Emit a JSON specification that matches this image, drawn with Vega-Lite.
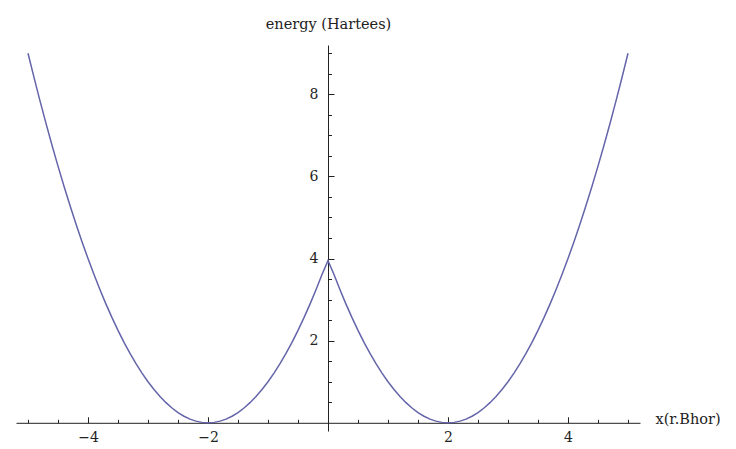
{
  "$schema": "https://vega.github.io/schema/vega-lite/v6.json",
  "autosize": "none",
  "width": 624,
  "height": 386,
  "padding": {"left": 16, "top": 45, "right": 96, "bottom": 18},
  "background": "white",
  "config": {
    "view": {"stroke": null},
    "font": "DejaVu Serif",
    "axis": {
      "domainColor": "#222222",
      "domainWidth": 1,
      "tickColor": "#222222",
      "tickWidth": 1,
      "grid": false,
      "labelFont": "DejaVu Serif",
      "labelFontSize": 14,
      "labelColor": "#222222",
      "titleFont": "DejaVu Serif",
      "titleFontSize": 14.5,
      "titleFontWeight": "normal",
      "titleColor": "#222222"
    }
  },
  "data": {
    "values": [
      {"x": -5.0, "y": 9.0}, {"x": -4.9, "y": 8.41}, {"x": -4.8, "y": 7.84}, {"x": -4.7, "y": 7.29},
      {"x": -4.6, "y": 6.76}, {"x": -4.5, "y": 6.25}, {"x": -4.4, "y": 5.76}, {"x": -4.3, "y": 5.29},
      {"x": -4.2, "y": 4.84}, {"x": -4.1, "y": 4.41}, {"x": -4.0, "y": 4.0}, {"x": -3.9, "y": 3.61},
      {"x": -3.8, "y": 3.24}, {"x": -3.7, "y": 2.89}, {"x": -3.6, "y": 2.56}, {"x": -3.5, "y": 2.25},
      {"x": -3.4, "y": 1.96}, {"x": -3.3, "y": 1.69}, {"x": -3.2, "y": 1.44}, {"x": -3.1, "y": 1.21},
      {"x": -3.0, "y": 1.0}, {"x": -2.9, "y": 0.81}, {"x": -2.8, "y": 0.64}, {"x": -2.7, "y": 0.49},
      {"x": -2.6, "y": 0.36}, {"x": -2.5, "y": 0.25}, {"x": -2.4, "y": 0.16}, {"x": -2.3, "y": 0.09},
      {"x": -2.2, "y": 0.04}, {"x": -2.1, "y": 0.01}, {"x": -2.0, "y": 0.0}, {"x": -1.9, "y": 0.01},
      {"x": -1.8, "y": 0.04}, {"x": -1.7, "y": 0.09}, {"x": -1.6, "y": 0.16}, {"x": -1.5, "y": 0.25},
      {"x": -1.4, "y": 0.36}, {"x": -1.3, "y": 0.49}, {"x": -1.2, "y": 0.64}, {"x": -1.1, "y": 0.81},
      {"x": -1.0, "y": 1.0}, {"x": -0.9, "y": 1.21}, {"x": -0.8, "y": 1.44}, {"x": -0.7, "y": 1.69},
      {"x": -0.6, "y": 1.96}, {"x": -0.5, "y": 2.25}, {"x": -0.4, "y": 2.56}, {"x": -0.3, "y": 2.89},
      {"x": -0.2, "y": 3.24}, {"x": -0.1, "y": 3.61}, {"x": 0.0, "y": 3.95},
      {"x": 0.1, "y": 3.61}, {"x": 0.2, "y": 3.24}, {"x": 0.3, "y": 2.89}, {"x": 0.4, "y": 2.56},
      {"x": 0.5, "y": 2.25}, {"x": 0.6, "y": 1.96}, {"x": 0.7, "y": 1.69}, {"x": 0.8, "y": 1.44},
      {"x": 0.9, "y": 1.21}, {"x": 1.0, "y": 1.0}, {"x": 1.1, "y": 0.81}, {"x": 1.2, "y": 0.64},
      {"x": 1.3, "y": 0.49}, {"x": 1.4, "y": 0.36}, {"x": 1.5, "y": 0.25}, {"x": 1.6, "y": 0.16},
      {"x": 1.7, "y": 0.09}, {"x": 1.8, "y": 0.04}, {"x": 1.9, "y": 0.01}, {"x": 2.0, "y": 0.0},
      {"x": 2.1, "y": 0.01}, {"x": 2.2, "y": 0.04}, {"x": 2.3, "y": 0.09}, {"x": 2.4, "y": 0.16},
      {"x": 2.5, "y": 0.25}, {"x": 2.6, "y": 0.36}, {"x": 2.7, "y": 0.49}, {"x": 2.8, "y": 0.64},
      {"x": 2.9, "y": 0.81}, {"x": 3.0, "y": 1.0}, {"x": 3.1, "y": 1.21}, {"x": 3.2, "y": 1.44},
      {"x": 3.3, "y": 1.69}, {"x": 3.4, "y": 1.96}, {"x": 3.5, "y": 2.25}, {"x": 3.6, "y": 2.56},
      {"x": 3.7, "y": 2.89}, {"x": 3.8, "y": 3.24}, {"x": 3.9, "y": 3.61}, {"x": 4.0, "y": 4.0},
      {"x": 4.1, "y": 4.41}, {"x": 4.2, "y": 4.84}, {"x": 4.3, "y": 5.29}, {"x": 4.4, "y": 5.76},
      {"x": 4.5, "y": 6.25}, {"x": 4.6, "y": 6.76}, {"x": 4.7, "y": 7.29}, {"x": 4.8, "y": 7.84},
      {"x": 4.9, "y": 8.41}, {"x": 5.0, "y": 9.0}
    ]
  },
  "mark": {"type": "line", "color": "#6464aa", "strokeWidth": 1.5, "interpolate": "linear"},
  "encoding": {
    "x": {
      "field": "x",
      "type": "quantitative",
      "scale": {"domain": [-5.2, 5.2], "nice": false, "zero": false},
      "axis": {
        "orient": "bottom",
        "offset": -8.2,
        "values": [-5, -4.5, -4, -3.5, -3, -2.5, -2, -1.5, -1, -0.5, 0.5, 1, 1.5, 2, 2.5, 3, 3.5, 4, 4.5, 5],
        "format": "~g",
        "labelExpr": "datum.value % 2 === 0 ? datum.label : ''",
        "tickSize": {"condition": {"test": "datum.value % 2 === 0", "value": -6}, "value": -3.5},
        "labelPadding": 14,
        "labelFlush": false,
        "title": "x(r.Bhor)",
        "titleAngle": 0,
        "titleAlign": "left",
        "titleBaseline": "alphabetic",
        "titleX": 639,
        "titleY": 1
      }
    },
    "y": {
      "field": "y",
      "type": "quantitative",
      "scale": {"domain": [-0.2, 9.2], "nice": false, "zero": false},
      "axis": {
        "orient": "left",
        "offset": -312,
        "values": [0.5, 1, 1.5, 2, 2.5, 3, 3.5, 4, 4.5, 5, 5.5, 6, 6.5, 7, 7.5, 8, 8.5, 9],
        "format": "~g",
        "labelExpr": "datum.value % 2 === 0 ? datum.label : ''",
        "tickSize": {"condition": {"test": "datum.value % 2 === 0", "value": -6}, "value": -3.5},
        "labelPadding": 16,
        "labelFlush": false,
        "title": "energy (Hartees)",
        "titleAngle": 0,
        "titleAlign": "center",
        "titleBaseline": "alphabetic",
        "titleX": 0,
        "titleY": -17
      }
    }
  }
}
